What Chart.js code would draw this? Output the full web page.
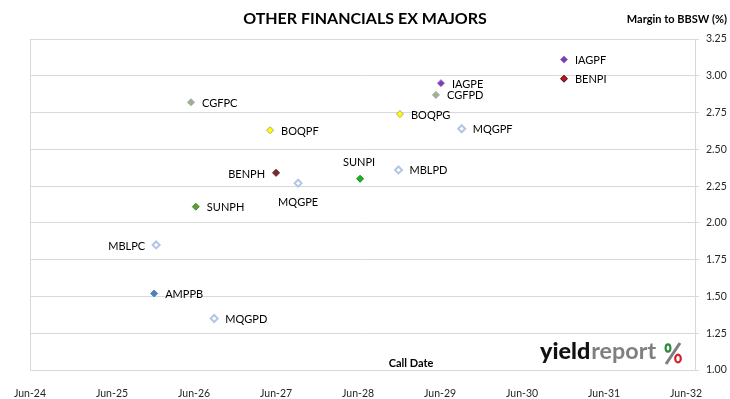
<!DOCTYPE html>
<html>
<head>
<meta charset="utf-8">
<script src="https://cdn.jsdelivr.net/npm/chart.js@4/dist/chart.umd.min.js"></script>
<style>
  html, body { margin: 0; padding: 0; background: #fff; }
  #wrap { width: 730px; height: 399px; }
</style>
</head>
<body>
<div id="wrap"><canvas id="chart" width="730" height="399"></canvas></div>
<script>
// securities, first call date and margin over BBSW
var codes = ["IAGPF", "BENPI", "IAGPE", "CGFPD", "CGFPC", "BOQPG", "BOQPF", "MQGPF",
             "MBLPD", "BENPH", "SUNPI", "MQGPE", "SUNPH", "MBLPC", "AMPPB", "MQGPD"];
var callDates = ["2030-12-05", "2030-12-05", "2029-06-05", "2029-05-13", "2026-05-18", "2028-12-05",
                 "2027-05-05", "2029-09-06", "2028-11-29", "2027-06-01", "2028-06-10", "2027-09-08",
                 "2026-06-09", "2025-12-15", "2025-12-06", "2026-08-30"];
var margins = [3.11, 2.98, 2.95, 2.87, 2.82, 2.74, 2.63, 2.64, 2.36, 2.34, 2.30, 2.27, 2.11, 1.85, 1.52, 1.35];
var tickLabels = ["Jun-24", "Jun-25", "Jun-26", "Jun-27", "Jun-28", "Jun-29", "Jun-30", "Jun-31", "Jun-32"];

// marker look per security
var fills = ["#7B3FB5", "#C0141C", "#7B3FB5", "#A4B27A", "#A4B27A", "#FFFF00", "#FFFF00", "#FFFFFF",
             "#FFFFFF", "#7F2A2A", "#1DB01D", "#FFFFFF", "#5E9E3A", "#FFFFFF", "#4F81BD", "#FFFFFF"];
var borders = ["#9A6CCB", "#3A1010", "#9A6CCB", "#8FA9C9", "#8FA9C9", "#A8A878", "#A8A878", "#B4C6E7",
               "#B4C6E7", "#5A1A1A", "#1A8F1A", "#B4C6E7", "#4E8A30", "#B4C6E7", "#4F81BD", "#B4C6E7"];
var hollow = ["MQGPF", "MBLPD", "MQGPE", "MBLPC", "MQGPD"];
var labelSide = { BENPH: "left", MBLPC: "left", SUNPI: "above", MQGPE: "below" };

var FONT = "Lato, 'DejaVu Sans', sans-serif";

// months since Jun-24
function monthsFrom(s) {
  var p = s.split("-").map(Number);
  return (p[0] - 2024) * 12 + (p[1] - 6) + (p[2] - 1) / 30.4;
}

var points = codes.map(function(c, i) {
  return { x: monthsFrom(callDates[i]), y: margins[i] };
});

var decor = {
  id: "decor",
  afterDatasetsDraw: function(chart) {
    var ctx = chart.ctx;
    var meta = chart.getDatasetMeta(0);
    ctx.save();
    ctx.font = "11px " + FONT;
    ctx.fillStyle = "#000";
    ctx.textBaseline = "middle";
    meta.data.forEach(function(pt, i) {
      var side = labelSide[codes[i]] || "right";
      if (side == "right") { ctx.textAlign = "left"; ctx.fillText(codes[i], pt.x + 11, pt.y + 1); }
      else if (side == "left") { ctx.textAlign = "right"; ctx.fillText(codes[i], pt.x - 11, pt.y + 1.5); }
      else if (side == "above") { ctx.textAlign = "center"; ctx.fillText(codes[i], pt.x - 1, pt.y - 16); }
      else { ctx.textAlign = "center"; ctx.fillText(codes[i], pt.x, pt.y + 19); }
    });
    ctx.restore();
  },
  afterDraw: function(chart) {
    var ctx = chart.ctx, a = chart.chartArea;
    ctx.save();
    // left edge of plot
    ctx.strokeStyle = "#D9D9D9";
    ctx.lineWidth = 1;
    ctx.beginPath();
    ctx.moveTo(a.left + 0.5, a.top);
    ctx.lineTo(a.left + 0.5, a.bottom);
    ctx.stroke();

    ctx.fillStyle = "#000";
    ctx.textBaseline = "middle";
    ctx.font = "bold 16px " + FONT;
    ctx.textAlign = "center";
    ctx.fillText("OTHER FINANCIALS EX MAJORS", 365, 19);

    ctx.font = "bold 11px " + FONT;
    ctx.textAlign = "right";
    ctx.fillText("Margin to BBSW (%)", 727, 19);

    ctx.textAlign = "center";
    ctx.fillText("Call Date", 411, 363);

    // yieldreport logo
    ctx.textAlign = "left";
    ctx.textBaseline = "alphabetic";
    ctx.font = "900 22px " + FONT;
    var w1 = ctx.measureText("yield").width;
    ctx.font = "bold 22px " + FONT;
    var w2 = ctx.measureText("report").width;
    var sx = 115 / (w1 + w2);
    ctx.save();
    ctx.translate(540, 359);
    ctx.scale(sx, 1);
    ctx.font = "900 22px " + FONT;
    ctx.fillStyle = "#111";
    ctx.fillText("yield", 0, 0);
    ctx.font = "bold 22px " + FONT;
    ctx.fillStyle = "#7F7F7F";
    ctx.fillText("report", w1 + 1, 0);
    ctx.restore();
    ctx.strokeStyle = "#7F7F7F";
    ctx.lineWidth = 3;
    ctx.beginPath();
    ctx.moveTo(666, 364);
    ctx.lineTo(680, 343);
    ctx.stroke();
    ctx.lineWidth = 2.2;
    ctx.strokeStyle = "#2E8B3A";
    ctx.beginPath();
    ctx.ellipse(668, 348, 2.4, 3.6, 0, 0, Math.PI * 2);
    ctx.stroke();
    ctx.strokeStyle = "#D0202E";
    ctx.beginPath();
    ctx.ellipse(678, 358.5, 2.8, 3.8, 0, 0, Math.PI * 2);
    ctx.stroke();
    ctx.restore();
  }
};

var ctx = document.getElementById("chart").getContext("2d");
var chart = new Chart(ctx, {
  type: "scatter",
  data: {
    datasets: [{
      data: points,
      pointStyle: "rectRot",
      pointRadius: 3.5,
      pointBorderWidth: codes.map(function(c) { return hollow.indexOf(c) >= 0 ? 2 : 1; }),
      pointBackgroundColor: fills,
      pointBorderColor: borders
    }]
  },
  options: {
    responsive: false,
    animation: false,
    devicePixelRatio: 1,
    layout: { padding: { left: 30, top: 39, right: 0, bottom: 0 } },
    plugins: { legend: { display: false }, tooltip: { enabled: false } },
    scales: {
      x: {
        type: "linear",
        min: 0,
        max: 97.3,
        afterBuildTicks: function(scale) {
          scale.ticks = tickLabels.map(function(l, i) { return { value: i * 12 }; });
        },
        afterFit: function(scale) { scale.height = 29; },
        ticks: {
          autoSkip: false,
          maxRotation: 0,
          padding: 9,
          color: "#262626",
          font: { family: FONT, size: 10.5 },
          callback: function(v, i) { return tickLabels[i]; }
        },
        grid: { display: false },
        border: { display: true, color: "#D9D9D9" }
      },
      y: {
        position: "right",
        min: 1,
        max: 3.25,
        afterFit: function(scale) { scale.width = 35; },
        ticks: {
          stepSize: 0.25,
          padding: 7,
          color: "#262626",
          font: { family: FONT, size: 10.5 },
          callback: function(v) { return v.toFixed(2); }
        },
        grid: { color: "#D9D9D9", tickLength: 4 },
        border: { display: true, color: "#D9D9D9" }
      }
    }
  },
  plugins: [decor]
});
</script>
</body>
</html>
